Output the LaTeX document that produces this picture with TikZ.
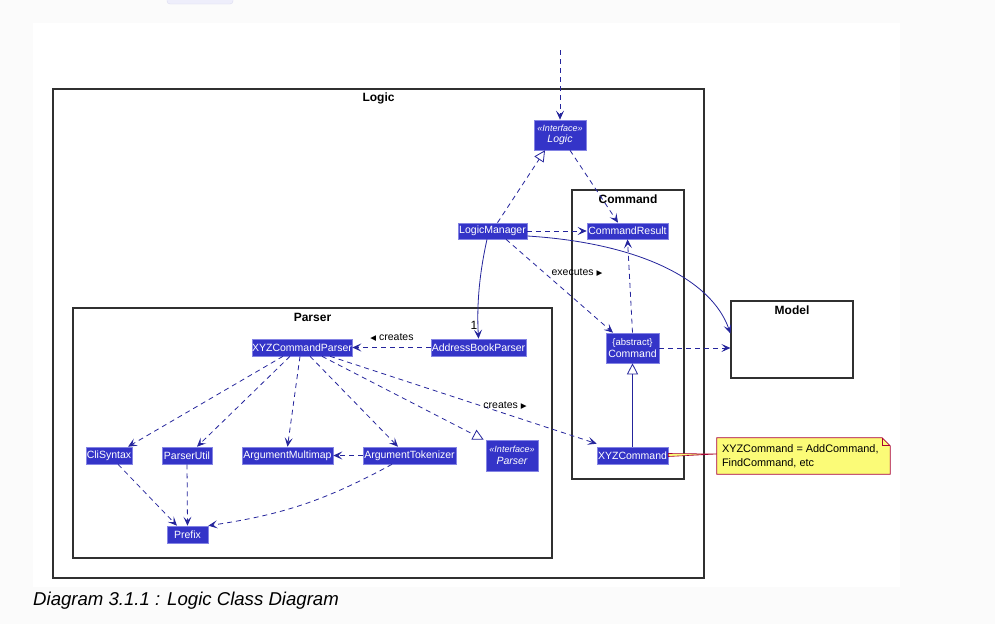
\documentclass[tikz,border=0pt]{standalone}
\usepackage{fontspec}
\setmainfont{Liberation Sans}
\newfontfamily\symfont{DejaVu Sans}
\usetikzlibrary{arrows.meta}
\definecolor{bgc}{HTML}{FBFBFB}
\definecolor{clsfill}{HTML}{3434C8}
\definecolor{clsdraw}{HTML}{8484E4}
\definecolor{edgec}{HTML}{25259C}
\definecolor{pkgdraw}{HTML}{303030}
\definecolor{notefill}{HTML}{FBFB77}
\definecolor{notedraw}{HTML}{A80036}
\definecolor{btnfill}{HTML}{EEEEFB}
\definecolor{btndraw}{HTML}{DCDCF0}
\newcommand{\stereo}[1]{{\fontsize{9}{10}\selectfont\itshape «#1»}}
\newcommand{\ltri}{{\symfont\fontsize{7.5}{9}\selectfont ◀}}
\newcommand{\rtri}{{\symfont\fontsize{7.5}{9}\selectfont ▶}}
\begin{document}
\begin{tikzpicture}[x=1pt,y=-1pt,
  cls/.style={draw=clsdraw, line width=0.6pt, fill=clsfill, text=white,
    font=\fontsize{10.5}{11.5}\selectfont, inner sep=0pt, minimum height=17pt, align=center},
  pkg/.style={draw=pkgdraw, line width=1.2pt, inner sep=0pt},
  pkgtitle/.style={font=\bfseries\fontsize{12}{13}\selectfont, inner sep=0pt},
  lbl/.style={font=\fontsize{10.5}{12}\selectfont, inner sep=0pt},
  dep/.style={draw=edgec, line width=0.8pt, dash pattern=on 5pt off 4pt,
    -{Stealth[length=9pt,width=8pt,inset=4pt]}},
  assoc/.style={draw=edgec, line width=0.8pt, -{Stealth[length=9pt,width=8pt,inset=4pt]}},
  realize/.style={draw=edgec, line width=0.8pt, dash pattern=on 5pt off 4pt,
    -{Triangle[length=11pt,width=11pt,fill=white,line width=0.8pt]}},
  inherit/.style={draw=edgec, line width=0.8pt,
    -{Triangle[length=11pt,width=11pt,fill=white,line width=0.8pt]}}
]
\useasboundingbox (0,0) rectangle (995,624);
\fill[bgc] (0,0) rectangle (995,624);
\fill[white] (33,23) rectangle (900,587);
\filldraw[fill=btnfill, draw=btndraw, rounded corners=3pt] (167,-6) rectangle (233,4);

% packages
\node[pkg, minimum width=651pt, minimum height=489pt] (logicpkg) at (378.5,333.5) {};
\node[pkgtitle] (logicT) at ([yshift=-10pt]logicpkg.north) {Logic};
\node[pkg, minimum width=112pt, minimum height=289pt] (cmdpkg) at (628,334.5) {};
\node[pkgtitle] (cmdT) at ([yshift=-10pt]cmdpkg.north) {Command};
\node[pkg, minimum width=122pt, minimum height=77pt] (model) at (792,339.5) {};
\node[pkgtitle] (modelT) at ([yshift=-10pt]model.north) {Model};
\node[pkg, minimum width=479pt, minimum height=250pt] (parserpkg) at (312.5,433) {};
\node[pkgtitle] (parserT) at ([yshift=-10pt]parserpkg.north) {Parser};

% classes
\node[cls, minimum width=52pt, minimum height=30pt] (logic) at (560,135) {\stereo{Interface}\\\itshape Logic};
\node[cls, minimum width=81pt, minimum height=16pt] (cr) at (627.5,231) {CommandResult};
\node[cls, minimum width=69pt, minimum height=16pt] (lm) at (492.5,231) {LogicManager};
\node[cls, minimum width=53pt, minimum height=30pt] (cmd) at (632.5,348) {{\fontsize{9.5}{11}\selectfont\{abstract\}}\\Command};
\node[cls, minimum width=71pt] (xyz) at (632.5,455.5) {XYZCommand};
\node[cls, minimum width=100pt] (xcp) at (302,347.5) {XYZCommandParser};
\node[cls, minimum width=95pt] (abp) at (478.5,347.5) {AddressBookParser};
\node[cls, minimum width=46pt] (cli) at (109,455.5) {CliSyntax};
\node[cls, minimum width=50pt] (pu) at (187,455.5) {ParserUtil};
\node[cls, minimum width=91pt] (am) at (287.5,455.5) {ArgumentMultimap};
\node[cls, minimum width=93pt] (at) at (409.5,455.5) {ArgumentTokenizer};
\node[cls, minimum width=52pt, minimum height=31pt] (pi) at (512,455.5) {\stereo{Interface}\\\itshape Parser};
\node[cls, minimum width=41pt] (prefix) at (187.5,534.5) {Prefix};

% note
\node[minimum width=173pt, minimum height=36pt, inner sep=0pt] (note) at (803.5,456) {};
\filldraw[fill=notefill, draw=notedraw, line width=0.7pt]
  (note.north west) -- ([xshift=-8pt]note.north east) -- ([yshift=-8pt]note.north east)
  -- (note.south east) -- (note.south west) -- cycle;
\draw[notedraw, line width=0.7pt] ([xshift=-8pt]note.north east) -- ++(0,8) -- ++(8,0);
\node[anchor=west, align=left, inner sep=0pt, font=\fontsize{10.9}{14}\selectfont] (notetext)
  at ([xshift=5pt]note.west) {XYZCommand = AddCommand,\\FindCommand, etc};
\filldraw[fill=notefill, draw=notedraw, line width=0.6pt]
  ([yshift=2pt]xyz.east) -- ([yshift=2pt]note.west) -- ([yshift=-1pt]xyz.east) -- cycle;

% caption
\node[anchor=west, inner sep=0pt, font=\itshape\fontsize{18.6}{21}\selectfont] (caption) at (33,601) {Diagram 3.1.1 : Logic Class Diagram};

% connectors
\coordinate (top) at (560,50);
\draw[dep] (top) -- (logic.north);
\draw[realize] ([xshift=5pt]lm.north) -- ([xshift=-15pt]logic.south);
\draw[dep] ([xshift=10pt]logic.south) -- ([xshift=-9.5pt]cr.north);
\draw[dep] (lm.east) -- (cr.west);
\draw[assoc] ([xshift=-5.5pt]lm.south) .. controls (478,280) and (477,310) .. (abp.north);
\node[font=\fontsize{12}{13}\selectfont, inner sep=0pt] (one) at (474,325) {1};
\draw[assoc] ([yshift=-5pt]lm.east) .. controls (640,243) and (712,280) .. ([yshift=6pt]model.west);
\draw[dep] ([xshift=13.5pt]lm.south) -- ([xshift=-19.5pt]cmd.north);
\node[lbl] (exec) at (577,273) {executes \rtri};
\draw[dep] (cmd.north) -- (cr.south);
\draw[dep] (cmd.east) -- (cmd.east -| model.west);
\draw[inherit] (xyz.north) -- (cmd.south);
\draw[dep] (abp.west) -- (xcp.east);
\node[lbl] (creates1) at (392,338) {\ltri\ creates};
\draw[dep] ([xshift=28pt]xcp.south) -- ([yshift=3pt]xyz.north west);
\node[lbl] (creates2) at (505,406) {creates \rtri};
\draw[dep] ([xshift=-19pt]xcp.south) -- ([xshift=19pt]cli.north);
\draw[dep] ([xshift=-12pt]xcp.south) -- ([xshift=10pt]pu.north);
\draw[dep] ([xshift=-2pt]xcp.south) -- (am.north);
\draw[dep] ([xshift=8pt]xcp.south) -- ([xshift=-11.5pt]at.north);
\draw[realize] ([xshift=20pt]xcp.south) -- ([xshift=-2pt]pi.north west);
\draw[dep] (at.west) -- (am.east);
\draw[dep] ([xshift=9pt]cli.south) -- ([xshift=-10.5pt]prefix.north);
\draw[dep] (pu.south) -- (prefix.north);
\draw[dep] ([xshift=-17.5pt]at.south) to[bend left=10] (prefix.north east);
\end{tikzpicture}
\end{document}
